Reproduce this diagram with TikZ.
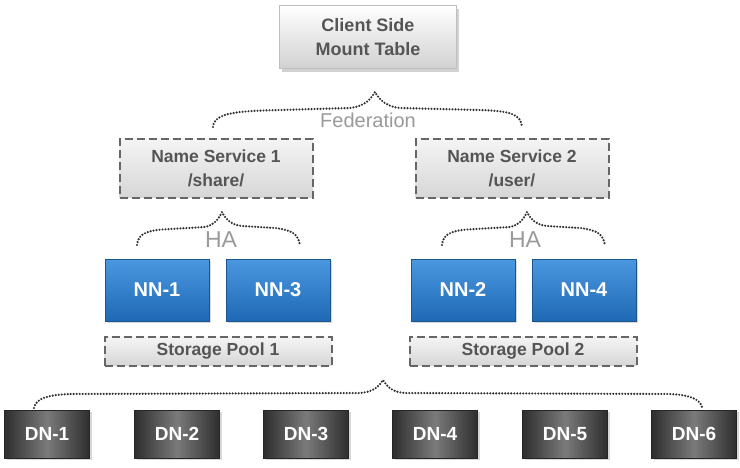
\documentclass[tikz,border=0pt]{standalone}
\usepackage{fontspec}
\setmainfont{Liberation Sans}
\usetikzlibrary{shadows}
\definecolor{txtgray}{HTML}{555555}
\definecolor{lblgray}{HTML}{9A9A9A}
\definecolor{dotgray}{HTML}{333333}
\definecolor{nntop}{HTML}{4A98E0}
\definecolor{nnbot}{HTML}{1F68B5}
\definecolor{nnbord}{HTML}{1B5590}
\tikzset{
  clientbox/.style={draw=black!25, line width=0.8pt, top color=white, bottom color=black!18,
    minimum width=177pt, minimum height=63pt, align=center, font=\bfseries\fontsize{18}{24}\selectfont,
    text=txtgray, drop shadow={shadow xshift=2pt, shadow yshift=-3pt, opacity=0.35}},
  svcbox/.style={draw=black!60, line width=2pt, dash pattern=on 8pt off 4pt,
    top color=black!4, bottom color=black!16, minimum width=193pt, minimum height=59pt,
    align=center, font=\bfseries\fontsize{17.5}{24}\selectfont, text=txtgray},
  poolbox/.style={svcbox, minimum width=227pt, minimum height=29pt},
  nnbox/.style={draw=nnbord, line width=0.8pt, top color=nntop, bottom color=nnbot,
    minimum width=104pt, minimum height=62pt, font=\bfseries\fontsize{20}{24}\selectfont, text=white,
    drop shadow={shadow xshift=2pt, shadow yshift=-2pt, opacity=0.3}},
  dnbox/.style={draw=black!85, line width=0.8pt, shading=axis, shading angle=90,
    left color=black!82, right color=black!82, middle color=black!52,
    minimum width=85pt, minimum height=48pt, font=\bfseries\fontsize{19}{22}\selectfont, text=white,
    drop shadow={shadow xshift=2pt, shadow yshift=-2pt, opacity=0.3}},
  brace/.style={draw=dotgray, line width=2.4pt, dash pattern=on 0pt off 3pt, line cap=round},
  lbl/.style={font=\fontsize{20}{24}\selectfont, text=lblgray}
}
\begin{document}
\begin{tikzpicture}[x=1pt,y=-1pt]
\useasboundingbox (0,0) rectangle (740,467);
\fill[white] (0,0) rectangle (740,467);

\node[clientbox] (client) at (368,37) {Client Side\\Mount Table};

\node[svcbox] (ns1) at (216,168) {Name Service 1\\/share/};
\node[svcbox] (ns2) at (512,168) {Name Service 2\\/user/};

\node[nnbox] (nn1) at (157,290) {NN-1};
\node[nnbox] (nn3) at (278,290) {NN-3};
\node[nnbox] (nn2) at (463,290) {NN-2};
\node[nnbox] (nn4) at (584,290) {NN-4};

\node[poolbox] (sp1) at (218,351) {Storage Pool 1};
\node[poolbox] (sp2) at (523,351) {Storage Pool 2};

\node[dnbox] (dn1) at (47,434) {DN-1};
\node[dnbox] (dn2) at (177,434) {DN-2};
\node[dnbox] (dn3) at (306,434) {DN-3};
\node[dnbox] (dn4) at (435,434) {DN-4};
\node[dnbox] (dn5) at (565,434) {DN-5};
\node[dnbox] (dn6) at (694,434) {DN-6};

% Federation brace
\coordinate (fl) at (213,127);
\coordinate (fp) at (375,92);
\coordinate (fr) at (522,127);
\draw[brace] (fl) .. controls (214,112) and (240,111) .. (280,110) -- (350,108) .. controls (365,106) and (370,100) .. (fp)
  .. controls (380,101) and (388,107) .. (400,108) -- (480,110) .. controls (510,111) and (521,114) .. (fr);
\node[lbl] (fed) at (368,120) {Federation};

% HA brace 1
\coordinate (h1l) at (137,245);
\coordinate (h1p) at (222,212);
\coordinate (h1r) at (300,245);
\draw[brace] (h1l) .. controls (138,232) and (150,230) .. (170,229) -- (205,227) .. controls (214,225) and (218,220) .. (h1p)
  .. controls (226,220) and (232,225) .. (242,226) -- (275,228) .. controls (292,230) and (298,234) .. (h1r);
\node[lbl, font=\fontsize{23}{26}\selectfont] (ha1) at (221,240) {HA};

% HA brace 2
\coordinate (h2l) at (442,245);
\coordinate (h2p) at (527,212);
\coordinate (h2r) at (605,245);
\draw[brace] (h2l) .. controls (443,232) and (455,230) .. (475,229) -- (510,227) .. controls (519,225) and (523,220) .. (h2p)
  .. controls (531,220) and (537,225) .. (547,226) -- (580,228) .. controls (597,230) and (603,234) .. (h2r);
\node[lbl, font=\fontsize{23}{26}\selectfont] (ha2) at (525,240) {HA};

% DN brace
\coordinate (dl) at (34,408);
\coordinate (dp) at (383,380);
\coordinate (dr) at (702,407);
\draw[brace] (dl) .. controls (36,398) and (48,395) .. (70,394) -- (360,393) .. controls (372,392) and (378,388) .. (dp)
  .. controls (388,388) and (393,392) .. (405,393) -- (670,394) .. controls (692,395) and (700,400) .. (dr);
\end{tikzpicture}
\end{document}
